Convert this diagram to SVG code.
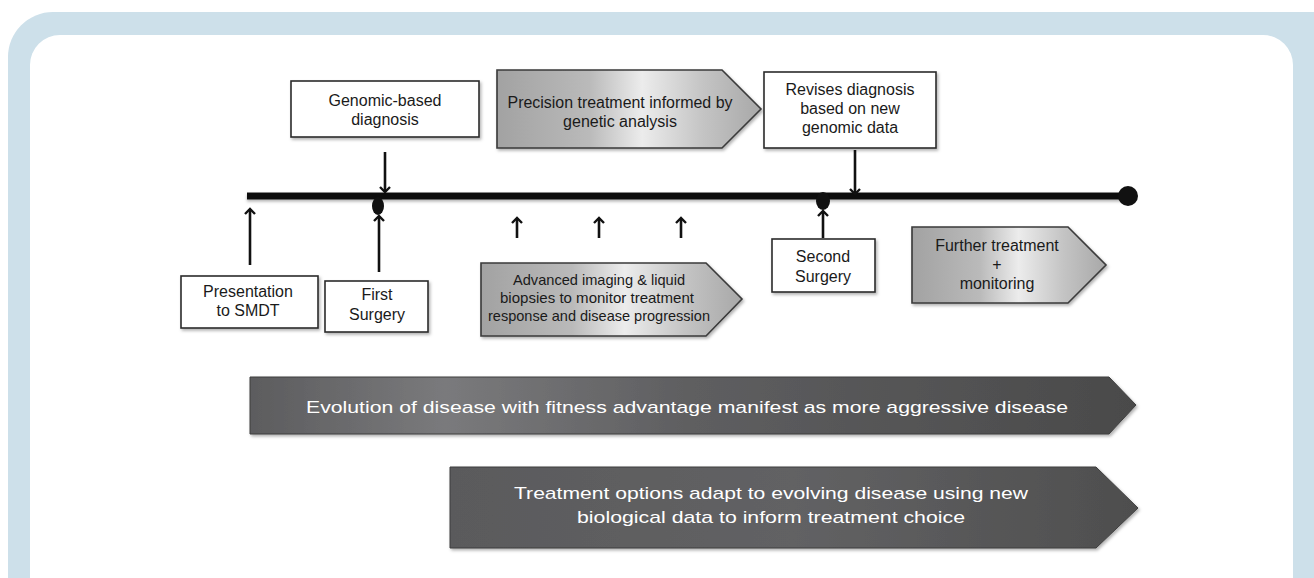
<svg xmlns="http://www.w3.org/2000/svg" width="1314" height="578" viewBox="0 0 1314 578">
<style>
.box{fill:#ffffff;stroke:#2b2b2b;stroke-width:1.6}
.silver{fill:url(#silverGrad);stroke:#3a3a3a;stroke-width:1.6}
.dark1{fill:url(#darkGrad1);stroke:#3e3e3e;stroke-width:1}
.dark2{fill:url(#darkGrad2);stroke:#3e3e3e;stroke-width:1}
.t{font-family:"Liberation Sans",Arial,sans-serif;font-size:16px;fill:#1a1a1a;text-anchor:middle}
.ts{font-family:"Liberation Sans",Arial,sans-serif;font-size:14.5px;fill:#1a1a1a;text-anchor:middle}
.tw{font-family:"Liberation Sans",Arial,sans-serif;font-size:17px;fill:#ffffff;text-anchor:middle}
.arr{stroke:#111;stroke-width:2.6;fill:none;marker-end:url(#head)}
</style>
<defs>
<linearGradient id="silverGrad" x1="0" y1="0" x2="1" y2="0">
<stop offset="0" stop-color="#a2a2a2"/>
<stop offset="0.35" stop-color="#bababa"/>
<stop offset="0.55" stop-color="#ececec"/>
<stop offset="0.78" stop-color="#c4c4c4"/>
<stop offset="1" stop-color="#a8a8a8"/>
</linearGradient>
<linearGradient id="darkGrad1" x1="0" y1="0" x2="1" y2="0">
<stop offset="0" stop-color="#5c5c5e"/>
<stop offset="0.22" stop-color="#7a7a7c"/>
<stop offset="0.5" stop-color="#5e5e60"/>
<stop offset="1" stop-color="#4a4a4a"/>
</linearGradient>
<linearGradient id="darkGrad2" x1="0" y1="0" x2="1" y2="0">
<stop offset="0" stop-color="#5a5a5c"/>
<stop offset="0.5" stop-color="#626264"/>
<stop offset="1" stop-color="#4e4e4e"/>
</linearGradient>
<filter id="shadow" x="-5%" y="-10%" width="110%" height="130%">
<feDropShadow dx="1.5" dy="2" stdDeviation="1.5" flood-color="#000" flood-opacity="0.3"/>
</filter>
<filter id="lineShadow" x="-2%" y="-100%" width="104%" height="300%">
<feDropShadow dx="0" dy="2" stdDeviation="1.5" flood-color="#000" flood-opacity="0.3"/>
</filter>
<marker id="head" markerWidth="12" markerHeight="12" refX="6" refY="6" orient="auto" markerUnits="userSpaceOnUse">
<path d="M1,1 L6,6 L1,11" fill="none" stroke="#111" stroke-width="2.4"/>
</marker>
</defs>

<g id="frame">
<rect x="8" y="12" width="1360" height="620" rx="45" ry="45" fill="#cde0ea"/>
<rect x="30" y="35" width="1263" height="600" rx="30" ry="30" fill="#ffffff"/>
</g>

<g id="timeline">
<rect x="247" y="192.5" width="881" height="7" fill="#111" filter="url(#lineShadow)"/>
<circle cx="1128" cy="196" r="10" fill="#111"/>
<ellipse cx="378" cy="206" rx="6" ry="9" fill="#111"/>
<ellipse cx="823" cy="201" rx="7" ry="9" fill="#111"/>
</g>

<g id="connectors">
<line class="arr" x1="385" y1="152" x2="385" y2="192"/>
<line class="arr" x1="855" y1="150" x2="855" y2="194"/>
<line class="arr" x1="250" y1="265" x2="250" y2="209"/>
<line class="arr" x1="379" y1="272" x2="379" y2="216"/>
<line class="arr" x1="823" y1="238" x2="823" y2="211"/>
<line class="arr" x1="517" y1="238" x2="517" y2="218"/>
<line class="arr" x1="599" y1="238" x2="599" y2="218"/>
<line class="arr" x1="681" y1="238" x2="681" y2="218"/>
</g>

<g id="genomic">
<rect class="box" x="291" y="81" width="188" height="56" filter="url(#shadow)"/>
<text class="t" x="385" y="106">Genomic-based</text>
<text class="t" x="385" y="125">diagnosis</text>
</g>

<g id="precision">
<polygon class="silver" points="497,70 722,70 761,109 722,148 497,148" filter="url(#shadow)"/>
<text class="t" x="620" y="108" textLength="225" lengthAdjust="spacingAndGlyphs">Precision treatment informed by</text>
<text class="t" x="620" y="127">genetic analysis</text>
</g>

<g id="revises">
<rect class="box" x="764" y="72" width="172" height="76" filter="url(#shadow)"/>
<text class="t" x="850" y="95">Revises diagnosis</text>
<text class="t" x="850" y="114">based on new</text>
<text class="t" x="850" y="133">genomic data</text>
</g>

<g id="presentation">
<rect class="box" x="181" y="276" width="137" height="52" filter="url(#shadow)"/>
<text class="t" x="248" y="297">Presentation</text>
<text class="t" x="248" y="316">to SMDT</text>
</g>

<g id="first-surgery">
<rect class="box" x="325" y="281" width="103" height="51" filter="url(#shadow)"/>
<text class="t" x="377" y="300">First</text>
<text class="t" x="377" y="320">Surgery</text>
</g>

<g id="advanced">
<polygon class="silver" points="481,263 706,263 742,299 706,336 481,336" filter="url(#shadow)"/>
<text class="ts" x="599" y="285" textLength="172" lengthAdjust="spacingAndGlyphs">Advanced imaging &amp; liquid</text>
<text class="ts" x="597" y="303" textLength="194" lengthAdjust="spacingAndGlyphs">biopsies to monitor treatment</text>
<text class="ts" x="599" y="321" textLength="222" lengthAdjust="spacingAndGlyphs">response and disease progression</text>
</g>

<g id="second-surgery">
<rect class="box" x="772" y="239" width="103" height="53" filter="url(#shadow)"/>
<text class="t" x="823" y="262">Second</text>
<text class="t" x="823" y="282">Surgery</text>
</g>

<g id="further">
<polygon class="silver" points="912,227 1068,227 1106,265 1068,303 912,303" filter="url(#shadow)"/>
<text class="t" x="997" y="251">Further treatment</text>
<text class="t" x="997" y="270">+</text>
<text class="t" x="997" y="289">monitoring</text>
</g>

<g id="evolution">
<polygon class="dark1" points="250,377 1109,377 1136,405 1109,434 250,434" filter="url(#shadow)"/>
<text class="tw" x="687" y="413" textLength="762" lengthAdjust="spacingAndGlyphs">Evolution of disease with fitness advantage manifest as more aggressive disease</text>
</g>

<g id="treatment-options">
<polygon class="dark2" points="450,467 1096,467 1138,508 1096,548 450,548" filter="url(#shadow)"/>
<text class="tw" x="771" y="499" textLength="514" lengthAdjust="spacingAndGlyphs">Treatment options adapt to evolving disease using new</text>
<text class="tw" x="771" y="523" textLength="388" lengthAdjust="spacingAndGlyphs">biological data to inform treatment choice</text>
</g>
</svg>
